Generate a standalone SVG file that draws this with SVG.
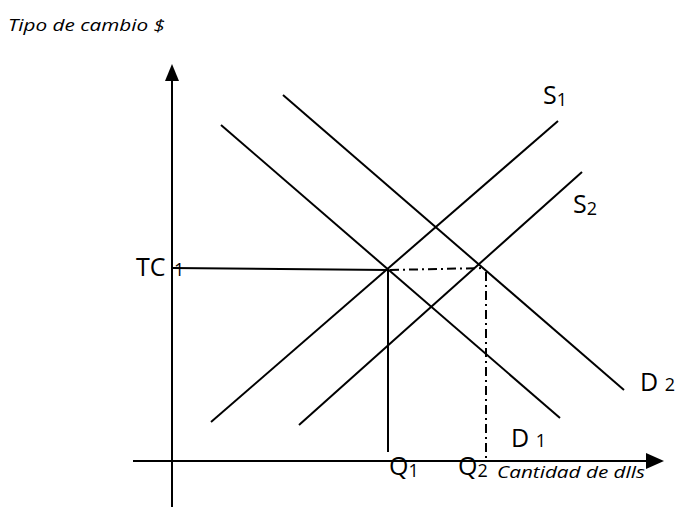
<svg xmlns="http://www.w3.org/2000/svg" width="675" height="507" viewBox="0 0 675 507">
<style>
.ln{stroke:#000;stroke-width:2;fill:none}
.dd{stroke:#000;stroke-width:2;fill:none;stroke-dasharray:9,4,2,4}
.lb{font-family:"Open Sans","Liberation Sans",sans-serif;font-size:25px;fill:#000}
.sb{font-size:18px}
.it{font-family:"Open Sans","Liberation Sans",sans-serif;font-style:italic;font-size:16px;fill:#000}
</style>
<g id="axes">
<line class="ln" x1="172" y1="507" x2="172" y2="80"/>
<path d="M165,81L172,64L179,81Z" fill="#000"/>
<line class="ln" x1="133" y1="461" x2="647" y2="461"/>
<path d="M646,453L664,461L646,469Z" fill="#000"/>
</g>
<g id="connectors">
<line id="S1" class="ln" x1="211" y1="422" x2="558" y2="121"/>
<line id="S2" class="ln" x1="299" y1="425" x2="582" y2="172"/>
<line id="D1" class="ln" x1="221" y1="125" x2="560" y2="418"/>
<line id="D2" class="ln" x1="283" y1="95" x2="624" y2="390"/>
<line id="tc" class="ln" x1="172" y1="268" x2="388" y2="270"/>
<line id="q1" class="ln" x1="388" y1="270" x2="388" y2="452"/>
<line id="tc2" class="dd" x1="390" y1="270" x2="485" y2="268"/>
<line id="q2" class="dd" x1="486" y1="272" x2="486" y2="460"/>
</g>
<g id="labels">
<text class="it" x="8" y="31" textLength="157" lengthAdjust="spacingAndGlyphs">Tipo de cambio $</text>
<text class="lb" x="543" y="104">S<tspan class="sb" dy="2">1</tspan></text>
<text class="lb" x="573" y="213">S<tspan class="sb" dy="2">2</tspan></text>
<text class="lb" x="136" y="276">TC<tspan class="sb" x="174">1</tspan></text>
<text class="lb" x="640" y="391">D <tspan class="sb">2</tspan></text>
<text class="lb" x="511" y="447">D <tspan class="sb">1</tspan></text>
<text class="lb" x="389" y="475">Q<tspan class="sb" dy="2">1</tspan></text>
<text class="lb" x="458" y="475">Q<tspan class="sb" dy="2">2</tspan></text>
<text class="it" x="497" y="478" textLength="148" lengthAdjust="spacingAndGlyphs">Cantidad de dlls</text>
</g>
</svg>
